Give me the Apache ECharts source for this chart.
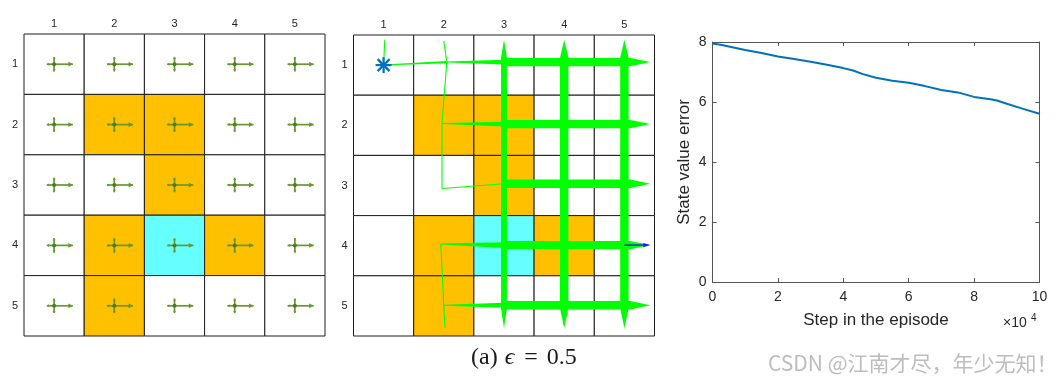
<!DOCTYPE html>
<html><head><meta charset="utf-8">
<script src="https://cdn.jsdelivr.net/npm/echarts@6/dist/echarts.min.js"></script>
<style>html,body{margin:0;padding:0;background:#fff}#c{width:1058px;height:377px}</style>
</head><body><div id="c"></div>
<script>
// ---------------- data ----------------
const gridCols = [1, 2, 3, 4, 5];
const gridRows = [1, 2, 3, 4, 5];
// 0 = accessible, 1 = forbidden, 2 = target
const cellTypes = [
  [0, 0, 0, 0, 0],
  [0, 1, 1, 0, 0],
  [0, 0, 1, 0, 0],
  [0, 1, 2, 1, 0],
  [0, 1, 0, 0, 0]
];
// action probabilities [up, right, down, left, stay]
const P = [0.1, 0.6, 0.1, 0.1, 0.1];
const policyGrid = [
  [P, P, P, P, P],
  [P, P, P, P, P],
  [P, P, P, P, P],
  [P, P, P, P, P],
  [P, P, P, P, P]
];
// trajectory segments: [fromCol, fromRow, toCol, toRow, visits]
const trajectories = [
  [3, 0.95, 5.43, 0.95, 100],
  [3, 1.98, 5.43, 1.98, 100],
  [3, 2.97, 5.43, 2.97, 100],
  [3, 3.99, 5.43, 3.99, 100],
  [3, 4.99, 5.43, 4.99, 100],
  [3, 0.58, 3, 5.37, 70],
  [4, 0.58, 4, 5.37, 100],
  [5, 0.58, 5, 5.37, 100],
  [2.05, 0.95, 3, 0.95, 35],
  [1.97, 1.97, 3, 1.98, 35],
  [1.95, 3.97, 3, 3.99, 40],
  [2.0, 4.99, 3, 4.99, 35],
  [1.0, 1.0, 2.05, 0.95, 15],
  [1.97, 3.05, 3, 2.97, 8],
  [2.05, 0.95, 1.97, 1.97, 5],
  [1.97, 1.97, 1.97, 3.05, 5],
  [1.95, 3.97, 2.0, 4.99, 5],
  [1.0, 1.0, 1.02, 0.58, 3],
  [2.05, 0.95, 2.0, 0.6, 3],
  [2.0, 4.99, 2.02, 5.37, 3]
];
const startState = [[1, 1]];
const finalStep = [[5, 3.99, 5.43, 3.99]];
// state value error curve
const stepX = [0, 0.25, 0.5, 1, 1.5, 2, 2.5, 3, 3.5, 4, 4.3, 4.6, 5, 5.5, 6, 6.5, 7, 7.5, 8, 8.5, 8.7, 9, 9.5, 10];
const errorY = [7.95, 7.91, 7.85, 7.73, 7.63, 7.52, 7.43, 7.34, 7.24, 7.13, 7.05, 6.93, 6.81, 6.71, 6.64, 6.53, 6.40, 6.32, 6.17, 6.09, 6.05, 5.94, 5.77, 5.61];
const stepScale = 10000;

// ---------------- helpers ----------------
const cellFill = ['#ffffff', '#ffc000', '#66ffff'];
const glyphColor = '#66982f';
const trajColor = '#00ff00';
const FONT = 'Liberation Sans, Arial, sans-serif';

const cellData = [];
const policyData = [];
gridRows.forEach((r, i) => gridCols.forEach((c, j) => {
  cellData.push([c, r, cellTypes[i][j]]);
  policyData.push([c, r].concat(policyGrid[i][j]));
}));

function renderCell(params, api) {
  const c = api.value(0), r = api.value(1), t = api.value(2);
  const a = api.coord([c - 0.5, r - 0.5]), b = api.coord([c + 0.5, r + 0.5]);
  return {
    type: 'rect',
    shape: { x: Math.min(a[0], b[0]), y: Math.min(a[1], b[1]), width: Math.abs(b[0] - a[0]), height: Math.abs(b[1] - a[1]) },
    style: { fill: cellFill[t], stroke: '#1e1e1e', lineWidth: 1 }
  };
}

function head(tip, dir, len, hw, color) {
  const bx = tip[0] - dir[0] * len, by = tip[1] - dir[1] * len;
  return { type: 'polygon', shape: { points: [tip, [bx - dir[1] * hw, by + dir[0] * hw], [bx + dir[1] * hw, by - dir[0] * hw]] }, style: { fill: color } };
}

function renderPolicy(params, api) {
  const c = api.value(0), r = api.value(1);
  const p = [api.value(2), api.value(3), api.value(4), api.value(5), api.value(6)];
  const ctr = api.coord([c, r]);
  const dirs = [[0, -1], [1, 0], [0, 1], [-1, 0]];
  const children = [];
  dirs.forEach((d, i) => {
    const L = 5 + p[i] * 23;
    const e = [ctr[0] + d[0] * L, ctr[1] + d[1] * L];
    children.push({ type: 'line', shape: { x1: ctr[0], y1: ctr[1], x2: e[0], y2: e[1] }, style: { stroke: glyphColor, lineWidth: 1.7 } });
    const big = p[i] > 0.3;
    children.push(head(e, d, big ? 4.5 : 2.2, big ? 2.4 : 1.5, glyphColor));
  });
  children.push({ type: 'circle', shape: { cx: ctr[0], cy: ctr[1], r: 1 + p[4] * 10 }, style: { fill: '#4c7c1e' } });
  return { type: 'group', children };
}

// taper an end only if it lies off a cell centre (an attempted move past the boundary)
function offCentre(v) { return Math.abs(v - Math.round(v)) > 0.2; }

function renderTraj(params, api) {
  const x1 = api.value(0), y1 = api.value(1), x2 = api.value(2), y2 = api.value(3);
  const a = api.coord([x1, y1]);
  const b = api.coord([x2, y2]);
  const v = api.value(4);
  const dx = b[0] - a[0], dy = b[1] - a[1], len = Math.hypot(dx, dy);
  const ux = dx / len, uy = dy / len, nx = -uy, ny = ux;
  if (v >= 50) {
    const hw = v * 0.042;
    const ts = (offCentre(x1) || offCentre(y1)) ? 18 : 0;
    const te = (offCentre(x2) || offCentre(y2)) ? 20 : 0;
    const s = [a[0] + ux * ts, a[1] + uy * ts], e = [b[0] - ux * te, b[1] - uy * te];
    return { type: 'polygon', shape: { points: [a, [s[0] + nx * hw, s[1] + ny * hw], [e[0] + nx * hw, e[1] + ny * hw], b, [e[0] - nx * hw, e[1] - ny * hw], [s[0] - nx * hw, s[1] - ny * hw]] }, style: { fill: trajColor } };
  }
  if (v >= 10) {
    const hw = v * 0.07, hs = 0.5;
    return { type: 'polygon', shape: { points: [[a[0] + nx * hs, a[1] + ny * hs], [b[0] + nx * hw, b[1] + ny * hw], [b[0] - nx * hw, b[1] - ny * hw], [a[0] - nx * hs, a[1] - ny * hs]] }, style: { fill: trajColor } };
  }
  return { type: 'line', shape: { x1: a[0], y1: a[1], x2: b[0], y2: b[1] }, style: { stroke: trajColor, lineWidth: 1.1 } };
}

function renderFinal(params, api) {
  const a = api.coord([api.value(0), api.value(1)]);
  const b = api.coord([api.value(2), api.value(3)]);
  const dx = b[0] - a[0], dy = b[1] - a[1], len = Math.hypot(dx, dy);
  const d = [dx / len, dy / len];
  return { type: 'group', children: [
    { type: 'line', shape: { x1: a[0], y1: a[1], x2: b[0] - d[0] * 4, y2: b[1] - d[1] * 4 }, style: { stroke: '#1a1aff', lineWidth: 1.4 } },
    head(b, d, 7, 2.2, '#1a1aff')
  ] };
}

function renderStar(params, api) {
  const p = api.coord([api.value(0), api.value(1)]);
  const s = 8, q = 6;
  const st = { stroke: '#0072bd', lineWidth: 2.2 };
  return { type: 'group', children: [
    { type: 'line', shape: { x1: p[0] - s, y1: p[1], x2: p[0] + s, y2: p[1] }, style: st },
    { type: 'line', shape: { x1: p[0], y1: p[1] - s, x2: p[0], y2: p[1] + s }, style: st },
    { type: 'line', shape: { x1: p[0] - q, y1: p[1] - q, x2: p[0] + q, y2: p[1] + q }, style: st },
    { type: 'line', shape: { x1: p[0] - q, y1: p[1] + q, x2: p[0] + q, y2: p[1] - q }, style: st }
  ] };
}

function gridXAxis(gi) {
  return { gridIndex: gi, type: 'value', min: 0.5, max: 5.5, position: 'top',
    axisLine: { show: false }, axisTick: { show: false }, splitLine: { show: false },
    axisLabel: { customValues: gridCols, fontSize: 11, color: '#262626', margin: 5, fontFamily: FONT } };
}
function gridYAxis(gi) {
  return { gridIndex: gi, type: 'value', min: 0.5, max: 5.5, inverse: true, position: 'left',
    axisLine: { show: false }, axisTick: { show: false }, splitLine: { show: false },
    axisLabel: { customValues: gridRows, fontSize: 11, color: '#262626', margin: 6, fontFamily: FONT } };
}

function boxLine() { return { show: true, onZero: false, lineStyle: { color: '#555', width: 1 } }; }
function inTick() { return { show: true, inside: true, length: 4, lineStyle: { color: '#555', width: 1 } }; }

const chart = echarts.init(document.getElementById('c'), null, { renderer: 'canvas' });
chart.setOption({
  animation: false,
  backgroundColor: '#fff',
  grid: [
    { left: 24, top: 34, width: 301, height: 302 },
    { left: 353.5, top: 35, width: 301, height: 301 },
    { left: 712.5, top: 42, width: 327, height: 240 }
  ],
  xAxis: [
    gridXAxis(0), gridXAxis(1),
    { gridIndex: 2, type: 'value', min: 0, max: 10 * stepScale, interval: 2 * stepScale, position: 'bottom',
      axisLine: boxLine(), axisTick: inTick(), splitLine: { show: false },
      axisLabel: { formatter: v => String(v / stepScale), fontSize: 14, color: '#262626', margin: 8, fontFamily: FONT },
      name: 'Step in the episode', nameLocation: 'middle', nameGap: 30,
      nameTextStyle: { fontSize: 17, color: '#262626', fontFamily: FONT } },
    { gridIndex: 2, type: 'value', min: 0, max: 10 * stepScale, interval: 2 * stepScale, position: 'top',
      axisLine: boxLine(), axisTick: inTick(), splitLine: { show: false }, axisLabel: { show: false } }
  ],
  yAxis: [
    gridYAxis(0), gridYAxis(1),
    { gridIndex: 2, type: 'value', min: 0, max: 8, interval: 2, position: 'left',
      axisLine: boxLine(), axisTick: inTick(), splitLine: { show: false },
      axisLabel: { fontSize: 14, color: '#262626', margin: 6, fontFamily: FONT },
      name: 'State value error', nameLocation: 'middle', nameGap: 20, nameRotate: 90,
      nameTextStyle: { fontSize: 17, color: '#262626', fontFamily: FONT, verticalAlign: 'bottom' } },
    { gridIndex: 2, type: 'value', min: 0, max: 8, interval: 2, position: 'right',
      axisLine: boxLine(), axisTick: inTick(), splitLine: { show: false }, axisLabel: { show: false } }
  ],
  series: [
    { type: 'custom', xAxisIndex: 0, yAxisIndex: 0, data: cellData, renderItem: renderCell, silent: true, z: 1 },
    { type: 'custom', xAxisIndex: 0, yAxisIndex: 0, data: policyData, renderItem: renderPolicy, silent: true, z: 2 },
    { type: 'custom', xAxisIndex: 1, yAxisIndex: 1, data: cellData, renderItem: renderCell, silent: true, z: 1 },
    { type: 'custom', xAxisIndex: 1, yAxisIndex: 1, data: trajectories, renderItem: renderTraj, silent: true, z: 2 },
    { type: 'custom', xAxisIndex: 1, yAxisIndex: 1, data: finalStep, renderItem: renderFinal, silent: true, z: 3 },
    { type: 'custom', xAxisIndex: 1, yAxisIndex: 1, data: startState, renderItem: renderStar, silent: true, z: 4 },
    { type: 'line', xAxisIndex: 2, yAxisIndex: 2, data: stepX.map((x, i) => [x * stepScale, errorY[i]]),
      showSymbol: false, symbol: 'none', smooth: false, lineStyle: { color: '#0072bd', width: 2 }, z: 3 }
  ],
  graphic: [
    { type: 'text', left: 1003, top: 316, style: { text: '×10', font: '14px ' + FONT, fill: '#262626' } },
    { type: 'text', left: 1031, top: 313, style: { text: '4', font: '10px ' + FONT, fill: '#262626' } },
    { type: 'text', left: 471, top: 346, style: {
        rich: { a: { fontFamily: 'Liberation Serif, serif', fontSize: 24, fill: '#1a1a1a' },
                e: { fontFamily: 'Liberation Serif, serif', fontSize: 24, fontStyle: 'italic', fill: '#1a1a1a', padding: [0, 1, 0, 1] },
                s: { fontFamily: 'Liberation Serif, serif', fontSize: 24, fill: '#1a1a1a', padding: [0, 3, 0, 3] } },
        text: '{a|(a) }{e|ϵ}{s| = }{a|0.5}' } },
    { type: 'text', left: 768, top: 353, style: { text: 'CSDN @江南才尽，年少无知！', font: '21px "Noto Sans CJK SC", sans-serif', fill: '#bdbdbd' } }
  ]
});
</script></body></html>
